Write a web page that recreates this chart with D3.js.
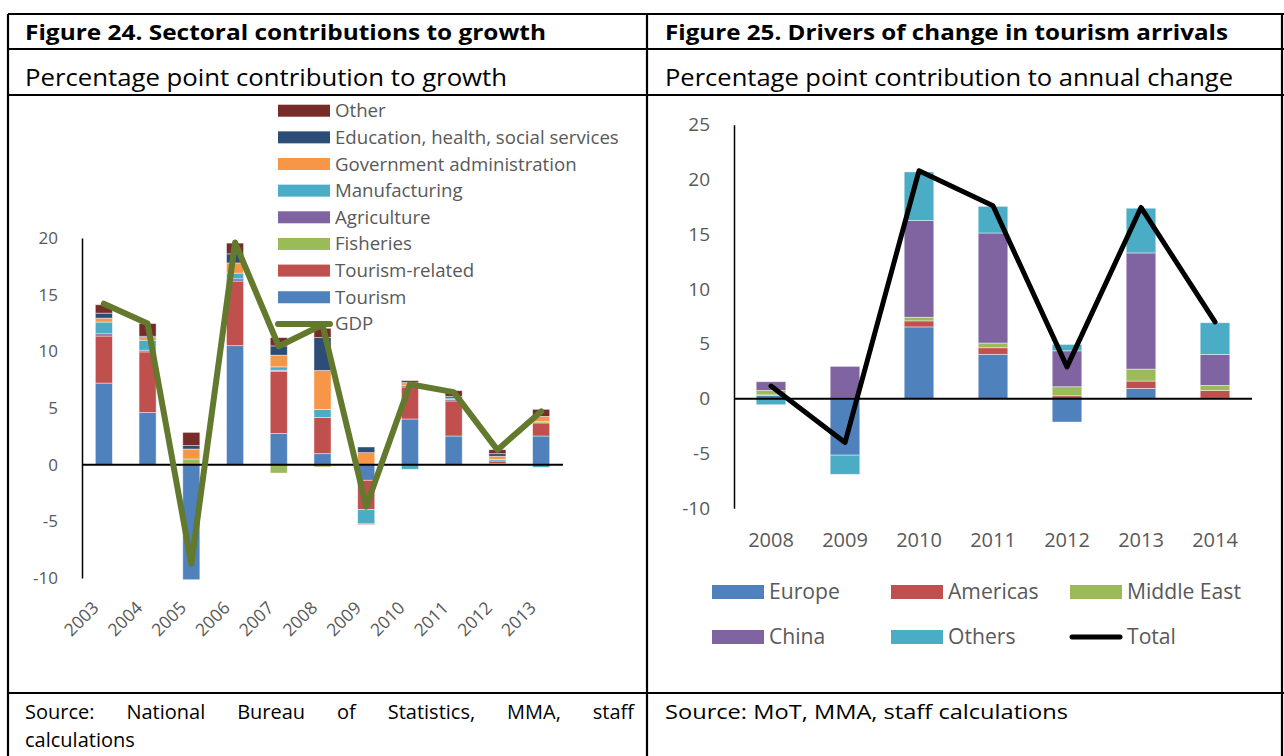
<!DOCTYPE html>
<html><head><meta charset="utf-8">
<script src="https://cdn.jsdelivr.net/npm/d3@7"></script>
<style>
html,body{margin:0;padding:0;background:#fff;}
text{font-family:"Open Sans", Lato, sans-serif;}
</style></head>
<body>
<svg id="c" width="1284" height="756"></svg>
<script>
// ---------- Figure 24 data ----------
const years24 = ["2003","2004","2005","2006","2007","2008","2009","2010","2011","2012","2013"];
const tourism        = [7.2, 4.6, -10.15, 10.5, 2.75, 0.97, -1.38, 4.03, 2.53, 0.1, 2.53];
const tourismRelated = [4.15, 5.35, 0, 5.7, 5.5, 3.2, -2.59, 2.82, 3.09, 0.22, 1.15];
const fisheries      = [0, 0, 0.5, 0, -0.74, -0.2, 0, 0, 0, 0, 0.11];
const agriculture    = [0.2, 0.15, 0, 0.2, 0.08, 0, 0, 0.12, 0.12, 0, 0];
const manufacturing  = [1.03, 0.88, 0, 0.5, 0.3, 0.7, -1.24, -0.41, 0.14, 0.15, -0.24];
const govAdmin       = [0.35, 0.23, 0.88, 0.9, 1.03, 3.44, 1.06, 0.18, 0, 0.27, 0.47];
const eduHealth      = [0.44, 0.12, 0.3, 0.8, 0.82, 2.9, 0.5, 0.12, 0.15, 0.23, 0];
const otherSector    = [0.74, 1.12, 1.17, 0.95, 0.73, 0.82, -0.06, 0.15, 0.5, 0.35, 0.62];
const gdp            = [14.2, 12.45, -8.75, 19.6, 10.45, 12.35, -3.7, 7.1, 6.4, 1.3, 4.7];
const sectorNames = ["Tourism","Tourism-related","Fisheries","Agriculture","Manufacturing","Government administration","Education, health, social services","Other"];
const sectorColors = ["#4F81BD","#C0504D","#9BBB59","#8064A2","#4BACC6","#F79646","#2C4D75","#772C2A"];
const ticks24 = [-10,-5,0,5,10,15,20];

// ---------- Figure 25 data ----------
const years25 = ["2008","2009","2010","2011","2012","2013","2014"];
const europe     = [0.3, -5.15, 6.55, 4.05, -2.13, 0.94, 0.05];
const americas   = [0.05, 0, 0.55, 0.6, 0.27, 0.67, 0.7];
const middleEast = [0.4, 0.05, 0.33, 0.43, 0.82, 1.09, 0.46];
const china      = [0.8, 2.9, 8.82, 10.04, 3.28, 10.6, 2.83];
const others     = [-0.55, -1.75, 4.44, 2.43, 0.58, 4.08, 2.89];
const total      = [1.15, -4.0, 20.8, 17.6, 2.9, 17.45, 7.0];
const regionNames = ["Europe","Americas","Middle East","China","Others"];
const regionColors = ["#4F81BD","#C0504D","#9BBB59","#8064A2","#4BACC6"];
const ticks25 = [-10,-5,0,5,10,15,20,25];

const svg = d3.select("#c");
const grey = "#595959";

// ---------- table frame ----------
const frame = svg.append("g").attr("stroke","#000").attr("stroke-width",2.2);
[[8,14,1284,14],[8,49,1284,49],[8,95,1284,95],[8,693,1284,693],
 [8,14,8,756],[647,14,647,756],[1282,14,1282,756]].forEach(l=>{
  frame.append("line").attr("x1",l[0]).attr("y1",l[1]).attr("x2",l[2]).attr("y2",l[3]);
});

function fit(t, target, base, lo, hi){
  t.attr("font-size",base);
  const w = t.node().getComputedTextLength();
  let s = base*target/w; s = Math.max(lo, Math.min(hi, s));
  t.attr("font-size",s);
  t.attr("textLength",target).attr("lengthAdjust","spacingAndGlyphs");
  return t;
}
function txt(x,y,s,size,bold,fill){
  return svg.append("text").attr("x",x).attr("y",y).text(s)
    .attr("font-size",size).attr("fill",fill||"#000").attr("font-weight",bold?"bold":"normal");
}
fit(txt(25,40,"Figure 24. Sectoral contributions to growth",20,true),521,20,19,22);
fit(txt(665,40,"Figure 25. Drivers of change in tourism arrivals",20,true),563,20,19,22);
fit(txt(25,86,"Percentage point contribution to growth",21,false),482,21,20,23);
fit(txt(665,86,"Percentage point contribution to annual change",21,false),568,21,20,23);
const srcR = fit(txt(665,719,"Source: MoT, MMA, staff calculations",20,false),403,20,18,20);
const srcSize = +srcR.attr("font-size");
// justified source line
(function(){
  const t = txt(25,719,"Source: National Bureau of Statistics, MMA, staff",srcSize,false);
  const w = t.node().getComputedTextLength();
  const gaps = t.text().split(" ").length-1;
  t.style("word-spacing",Math.max(0,(609-w)/gaps)+"px");
})();
txt(25,747,"calculations",srcSize,false);

function hyphenFmt(d){ return String(d); }

// ---------- Figure 24 chart ----------
(function(){
  const g = svg.append("g");
  const x = d3.scaleBand().domain(years24).range([82,563]).paddingInner(0.61).paddingOuter(0.305);
  const y = d3.scaleLinear().domain([-10,20]).range([578,238]);
  const series = [tourism,tourismRelated,fisheries,agriculture,manufacturing,govAdmin,eduHealth,otherSector];
  const rows = years24.map((yr,i)=>{const o={year:yr}; sectorNames.forEach((n,k)=>o[n]=series[k][i]); return o;});
  const stacked = d3.stack().keys(sectorNames).offset(d3.stackOffsetDiverging)(rows);
  g.selectAll("g.s").data(stacked).join("g").attr("fill",(d,i)=>sectorColors[i])
    .selectAll("rect").data(d=>d).join("rect")
    .attr("x",d=>x(d.data.year)).attr("width",x.bandwidth())
    .attr("y",d=>y(Math.max(d[0],d[1]))).attr("height",d=>Math.abs(y(d[0])-y(d[1])))
    .attr("stroke","#fff").attr("stroke-opacity",0.55).attr("stroke-width",0.8);

  const ya = d3.axisLeft(y).tickValues(ticks24).tickSize(0).tickPadding(24).tickFormat(hyphenFmt);
  const ay = g.append("g").attr("transform","translate(82,0)").call(ya);
  ay.select(".domain").attr("stroke","#000").attr("stroke-width",1.5);
  ay.selectAll("text").attr("font-size",17).attr("fill",grey).attr("font-family","'Open Sans', sans-serif");
  g.append("line").attr("x1",82).attr("x2",563).attr("y1",y(0)).attr("y2",y(0)).attr("stroke","#000").attr("stroke-width",2);

  const xa = d3.axisBottom(x).tickSize(0).tickPadding(0);
  const ax = g.append("g").attr("transform","translate(0,578)").call(xa);
  ax.select(".domain").remove();
  ax.selectAll("text").attr("font-size",17.5).attr("fill",grey).attr("font-family","'Open Sans', sans-serif")
    .attr("text-anchor","end").attr("dy",0).attr("y",0)
    .attr("transform","translate(-4,31) rotate(-45)");

  const legNames = sectorNames.slice().reverse();
  const legColors = sectorColors.slice().reverse();
  const lg = g.append("g");
  legNames.forEach((n,i)=>{
    const yy = 110.7 + i*26.65;
    lg.append("rect").attr("x",278).attr("y",yy-6).attr("width",52).attr("height",12).attr("fill",legColors[i]);
    lg.append("text").attr("x",335).attr("y",yy).attr("dy","0.35em").attr("font-size",17).attr("fill",grey).text(n);
  });
  const line = d3.line().x((d,i)=>x(years24[i])+x.bandwidth()/2).y(d=>y(d));
  g.append("path").datum(gdp).attr("d",line).attr("fill","none").attr("stroke","#637A2E")
    .attr("stroke-width",6).attr("stroke-linejoin","round").attr("stroke-linecap","round");
  const yG = 110.7 + 8*26.65;
  lg.append("line").attr("x1",278).attr("x2",330).attr("y1",yG).attr("y2",yG).attr("stroke","#637A2E").attr("stroke-width",6).attr("stroke-linecap","round");
  lg.append("text").attr("x",335).attr("y",yG).attr("dy","0.35em").attr("font-size",17).attr("fill",grey).text("GDP");
  g.node().appendChild(lg.node());
  const ref = lg.selectAll("text").filter(function(){return this.textContent.startsWith("Education");}).node();
  const w = ref.getComputedTextLength();
  lg.selectAll("text").attr("font-size",17*284/w);
})();

// ---------- Figure 25 chart ----------
(function(){
  const g = svg.append("g");
  const x = d3.scaleBand().domain(years25).range([734,1252]).paddingInner(0.6).paddingOuter(0.3);
  const y = d3.scaleLinear().domain([-10,25]).range([508.3,124.7]);
  const series = [europe,americas,middleEast,china,others];
  const rows = years25.map((yr,i)=>{const o={year:yr}; regionNames.forEach((n,k)=>o[n]=series[k][i]); return o;});
  const stacked = d3.stack().keys(regionNames).offset(d3.stackOffsetDiverging)(rows);
  g.selectAll("g.s").data(stacked).join("g").attr("fill",(d,i)=>regionColors[i])
    .selectAll("rect").data(d=>d).join("rect")
    .attr("x",d=>x(d.data.year)).attr("width",x.bandwidth())
    .attr("y",d=>y(Math.max(d[0],d[1]))).attr("height",d=>Math.abs(y(d[0])-y(d[1])))
    .attr("stroke","#fff").attr("stroke-opacity",0.55).attr("stroke-width",0.8);

  const ya = d3.axisLeft(y).tickValues(ticks25).tickSize(0).tickPadding(24).tickFormat(hyphenFmt);
  const ay = g.append("g").attr("transform","translate(734,0)").call(ya);
  ay.select(".domain").attr("stroke","#000").attr("stroke-width",1.5);
  ay.selectAll("text").attr("font-size",19).attr("fill",grey).attr("font-family","'Open Sans', sans-serif");
  g.append("line").attr("x1",734).attr("x2",1252).attr("y1",y(0)).attr("y2",y(0)).attr("stroke","#000").attr("stroke-width",2);

  const xa = d3.axisBottom(x).tickSize(0).tickPadding(0);
  const ax = g.append("g").attr("transform","translate(0,508)").call(xa);
  ax.select(".domain").remove();
  ax.selectAll("text").attr("font-size",20).attr("fill",grey).attr("font-family","'Open Sans', sans-serif")
    .attr("dy",0).attr("y",39);

  const line = d3.line().x((d,i)=>x(years25[i])+x.bandwidth()/2).y(d=>y(d));
  g.append("path").datum(total).attr("d",line).attr("fill","none").attr("stroke","#000")
    .attr("stroke-width",5).attr("stroke-linejoin","round").attr("stroke-linecap","round");

  const items = regionNames.map((n,i)=>({n,c:regionColors[i],t:"bar"})).concat([{n:"Total",c:"#000",t:"line"}]);
  const colsX = [712,891,1070];
  const texts = [];
  items.forEach((it,i)=>{
    const cx = colsX[i%3], yy = i<3?592:637;
    if(it.t==="bar") g.append("rect").attr("x",cx).attr("y",yy-7).attr("width",52).attr("height",14).attr("fill",it.c);
    else g.append("line").attr("x1",cx+2).attr("x2",cx+50).attr("y1",yy).attr("y2",yy).attr("stroke",it.c).attr("stroke-width",5).attr("stroke-linecap","round");
    texts.push(g.append("text").attr("x",cx+57).attr("y",yy).attr("dy","0.35em").attr("font-size",19).attr("fill",grey).text(it.n));
  });
  const w = texts[2].node().getComputedTextLength();
  texts.forEach(t=>t.attr("font-size",19*114/w));
})();
</script>
</body></html>
